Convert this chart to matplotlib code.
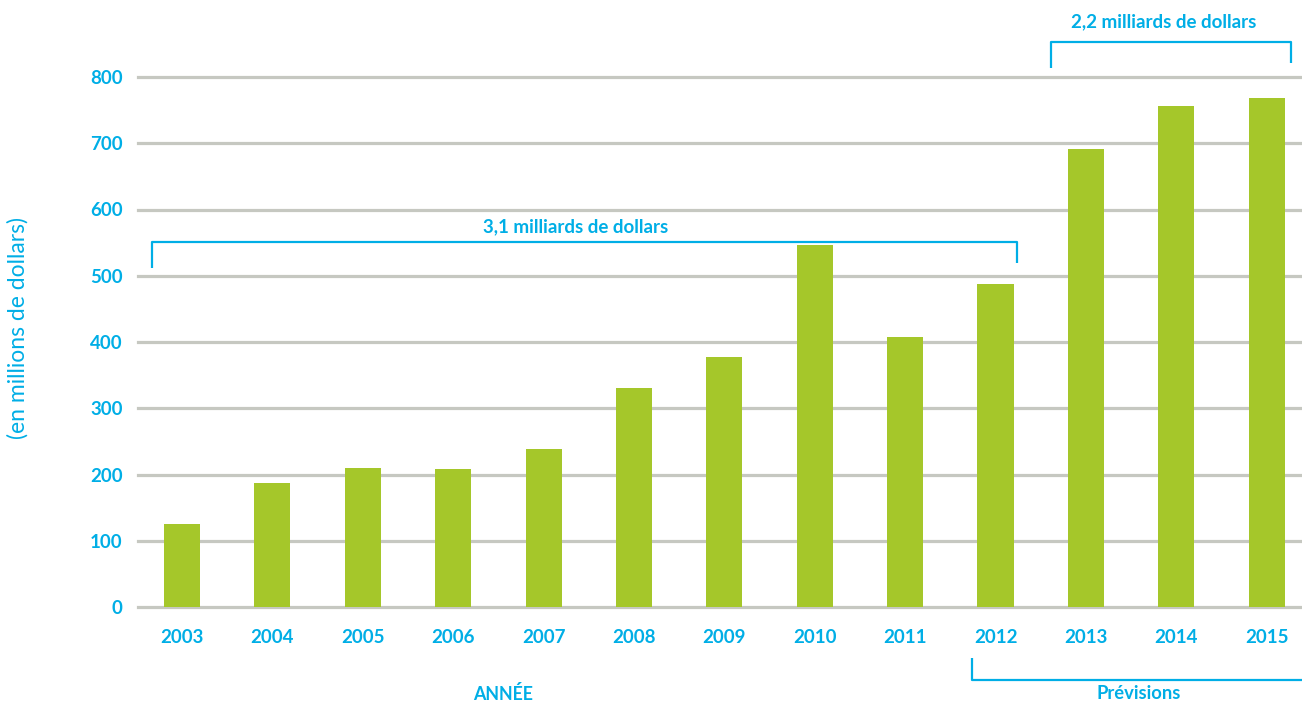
import matplotlib
matplotlib.use("Agg")
import matplotlib.pyplot as plt

years = ["2003", "2004", "2005", "2006", "2007", "2008", "2009", "2010",
         "2011", "2012", "2013", "2014", "2015"]
values = [125, 187, 210, 208, 238, 330, 377, 546, 407, 487, 691, 756, 768]
yticks = [0, 100, 200, 300, 400, 500, 600, 700, 800]
label_31 = "3,1 milliards de dollars"
label_22 = "2,2 milliards de dollars"
label_year = "ANNÉE"
label_prev = "Prévisions"
ylabel = "(en millions de dollars)"

BLUE = "#00aee6"
GREEN = "#a5c72a"
GRID = "#c6c8c1"

plt.rcParams['font.family'] = ['Lato', 'DejaVu Sans']

fig = plt.figure(figsize=(13.02, 7.02), dpi=100)
ax = fig.add_axes([138/1302, 1-607/702, 1-138/1302, (607-77)/702])

x = list(range(len(years)))
ax.bar(x, values, width=0.4, color=GREEN, zorder=3)

ax.set_ylim(0, 800)
ax.set_xlim(-0.487, 12.39)
ax.set_yticks(yticks)
ax.set_yticklabels([str(t) for t in yticks])
ax.set_xticks(x)
ax.set_xticklabels(years)
for s in ax.spines.values():
    s.set_visible(False)
ax.tick_params(length=0, labelcolor=BLUE, labelsize=13.5)
ax.tick_params(axis='y', pad=11)
ax.tick_params(axis='x', pad=16)
for lab in ax.get_xticklabels() + ax.get_yticklabels():
    lab.set_fontweight('bold')
for t in yticks:
    ax.axhline(t, color=GRID, lw=2.3, zorder=1, clip_on=False)

lk = dict(color=BLUE, lw=1.6, clip_on=False, solid_capstyle='butt', zorder=4)
# 3,1 bracket
ax.plot([-0.33, -0.33, 9.24, 9.24], [512, 551, 551, 519], **lk)
ax.text(4.35, 574, label_31, color=BLUE, fontsize=13.5, fontweight='bold',
        ha='center', va='center')
# 2,2 bracket
ax.plot([9.61, 9.61, 12.27, 12.27], [814, 853, 853, 821], **lk)
ax.text(10.86, 883, label_22, color=BLUE, fontsize=13.5, fontweight='bold',
        ha='center', va='center')
# Prévisions bracket
ax.plot([8.74, 8.74, 12.39], [-77, -110, -110], **lk)
ax.text(10.58, -131, label_prev, color=BLUE, fontsize=13.2, fontweight='bold',
        ha='center', va='center')
ax.text(3.55, -131, label_year, color=BLUE, fontsize=12.8, fontweight='bold',
        ha='center', va='center')

fig.text(18/1302, 1-328/702, ylabel, color=BLUE, fontsize=16.5, rotation=90,
         ha='center', va='center')

fig.savefig("out.png", dpi=100)
